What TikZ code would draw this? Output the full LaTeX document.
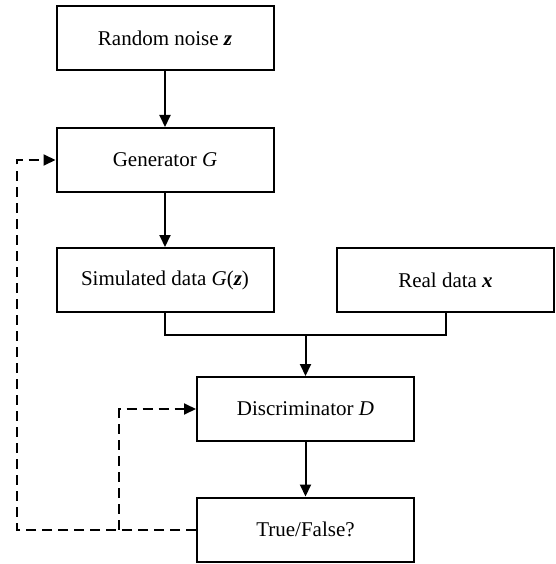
\documentclass[tikz,border=0pt]{standalone}
\usepackage{fontspec}
\setmainfont{Liberation Serif}
\usetikzlibrary{arrows.meta}
\newcommand{\bvar}[1]{\textbf{\textit{#1}}}
\begin{document}
\begin{tikzpicture}[x=1pt,y=-1pt,
  block/.style={draw,line width=2pt,minimum width=217pt,minimum height=64pt,inner sep=0pt,
    font=\fontsize{21}{25}\selectfont},
  flow/.style={line width=2pt,-{Triangle[length=12pt,width=11pt]}},
  plain/.style={line width=2pt},
  feedback/.style={line width=2pt,dash pattern=on 10pt off 6pt,-{Triangle[length=12pt,width=11pt]}}]
\useasboundingbox (0,0) rectangle (555,564);
\node[block] (noise) at (165,38) {Random noise \bvar{z}};
\node[block] (gen) at (165,160) {Generator \textit{G}};
\node[block] (sim) at (165,280) {Simulated data \textit{G}(\bvar{z})};
\node[block] (real) at (445.5,280) {Real data \bvar{x}};
\node[block] (disc) at (305.5,409) {Discriminator \textit{D}};
\node[block] (tf) at (305.5,529.5) {True/False?};
\coordinate (join) at (305.5,335);
\coordinate (loopin) at (119,529.5);
\coordinate (loopout) at (17,529.5);
\draw[flow] (noise) -- (gen);
\draw[flow] (gen) -- (sim);
\draw[plain] (sim.south) |- (join);
\draw[plain] (real.south) |- (join);
\draw[flow] (join) -- (disc);
\draw[flow] (disc) -- (tf);
\draw[feedback] (tf.west) -- (loopout) |- (gen.west);
\draw[feedback] (loopin) |- (disc.west);
\end{tikzpicture}
\end{document}
